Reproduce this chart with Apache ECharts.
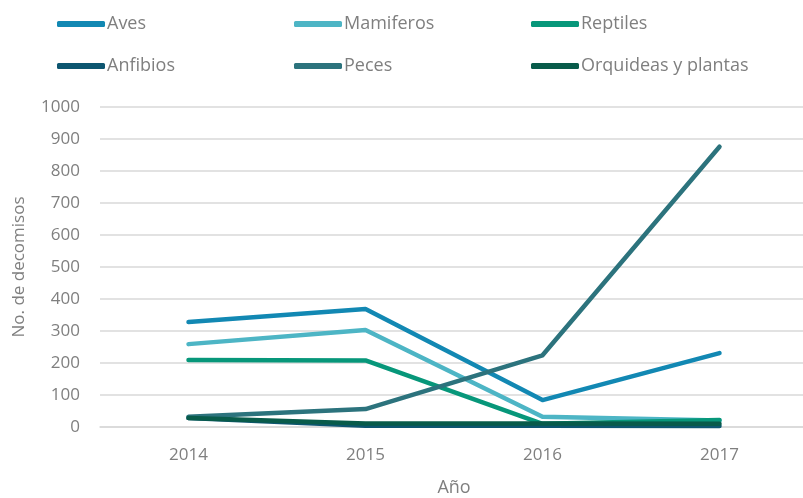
<!DOCTYPE html>
<html>
<head>
<meta charset="utf-8">
<script src="https://cdn.jsdelivr.net/npm/echarts@6/dist/echarts.min.js"></script>
<style>
  html, body { margin: 0; padding: 0; background: #fff; }
  #main { width: 803px; height: 498px; }
</style>
</head>
<body>
<div id="main"></div>
<script>
// years on the x axis
var years = ['2014', '2015', '2016', '2017'];

// decomisos per group
var aves = [328, 369, 84, 231];
var mamiferos = [259, 303, 32, 20];
var reptiles = [209, 208, 10, 22];
var anfibios = [28, 4, 4, 3];
var peces = [32, 56, 224, 876];
var orquideas = [28, 11, 11, 10];

var names = ['Aves', 'Mamiferos', 'Reptiles', 'Anfibios', 'Peces', 'Orquideas y plantas'];
var colors = ['#1288b3', '#4db5c5', '#07977a', '#0d5670', '#2c737d', '#085b4a'];
var values = [aves, mamiferos, reptiles, anfibios, peces, orquideas];

var font = 'Open Sans, sans-serif';

var myChart = echarts.init(document.getElementById('main'));

// legend: 3 columns x 2 rows, one little legend per item so each sits in its own slot
var legends = names.map(function (n, i) {
  return {
    data: [n],
    left: 52 + (i % 3) * 237,
    top: 10 + Math.floor(i / 3) * 42,
    icon: 'roundRect',
    itemWidth: 48,
    itemHeight: 6,
    itemGap: 0,
    textStyle: { color: '#7f7f7f', fontSize: 18, fontFamily: font, padding: [0, 0, 0, -3] }
  };
});

var series = names.map(function (n, i) {
  return {
    name: n,
    type: 'line',
    data: values[i],
    symbol: 'none',
    lineStyle: { width: 4.5, color: colors[i], cap: 'round', join: 'round' },
    itemStyle: { color: colors[i] }
  };
});

myChart.setOption({
  animation: false,
  legend: legends,
  grid: {
    left: 100, top: 107, width: 708, height: 320,
    containLabel: false, outerBoundsMode: 'none'
  },
  xAxis: {
    type: 'category',
    data: years,
    name: 'Año',
    nameLocation: 'middle',
    nameGap: 52,
    nameTextStyle: { color: '#7f7f7f', fontSize: 18, fontFamily: font },
    axisLine: { lineStyle: { color: '#d9d9d9', width: 1.5 } },
    axisTick: { show: false },
    axisLabel: { color: '#7f7f7f', fontSize: 17, fontFamily: font, margin: 20 }
  },
  yAxis: {
    type: 'value',
    min: 0,
    max: 1000,
    interval: 100,
    name: 'No. de decomisos',
    nameLocation: 'middle',
    nameGap: 72,
    nameTextStyle: { color: '#7f7f7f', fontSize: 17, fontFamily: font },
    axisLine: { show: false },
    axisTick: { show: false },
    splitLine: { lineStyle: { color: '#d9d9d9', width: 1.5 } },
    axisLabel: {
      color: '#7f7f7f', fontSize: 17, fontFamily: font, margin: 20,
      formatter: function (v) { return String(v); }
    }
  },
  series: series
});
</script>
</body>
</html>
